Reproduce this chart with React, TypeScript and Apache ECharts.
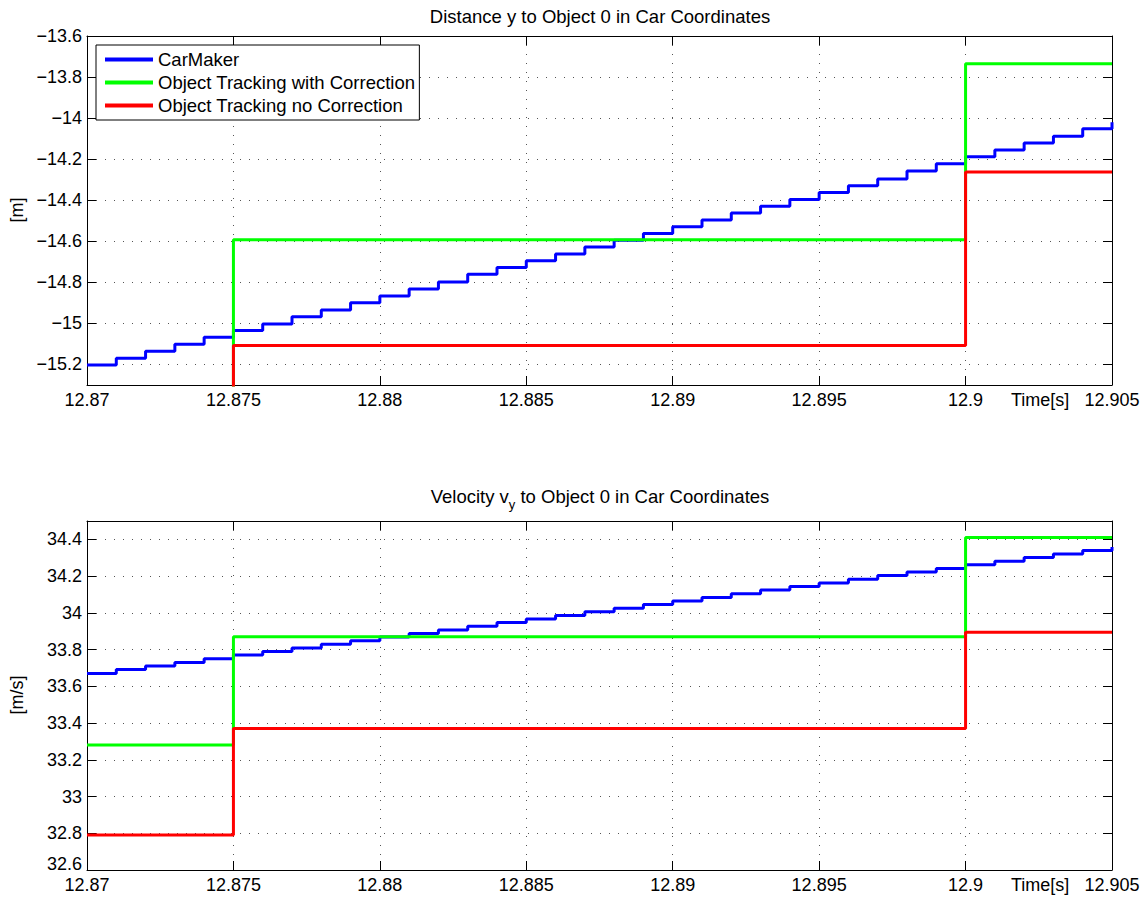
import React, { useEffect, useRef } from 'react';
import * as echarts from 'echarts';

const FONT = "'Liberation Sans', Arial, Helvetica, sans-serif";

const seriesNames = ['CarMaker', 'Object Tracking with Correction', 'Object Tracking no Correction'];
const seriesColors = ['#0000ff', '#00ff00', '#ff0000'];

const distTicks = [-15.2, -15, -14.8, -14.6, -14.4, -14.2, -14, -13.8, -13.6];

const carMakerTime = [
  12.870, 12.871, 12.872, 12.873, 12.874, 12.875, 12.876, 12.877, 12.878, 12.879,
  12.880, 12.881, 12.882, 12.883, 12.884, 12.885, 12.886, 12.887, 12.888, 12.889,
  12.890, 12.891, 12.892, 12.893, 12.894, 12.895, 12.896, 12.897, 12.898, 12.899,
  12.900, 12.901, 12.902, 12.903, 12.904, 12.905,
];
const carMakerDistance = [
  -15.203, -15.170, -15.136, -15.102, -15.068, -15.035, -15.003, -14.967, -14.935, -14.899,
  -14.866, -14.832, -14.798, -14.761, -14.728, -14.695, -14.662, -14.628, -14.595, -14.562,
  -14.529, -14.496, -14.462, -14.429, -14.396, -14.362, -14.329, -14.296, -14.258, -14.222,
  -14.188, -14.155, -14.121, -14.088, -14.052, -14.020,
];
const carMakerVelocity = [
  33.670, 33.691, 33.711, 33.730, 33.750, 33.770, 33.789, 33.809, 33.829, 33.848,
  33.868, 33.888, 33.907, 33.927, 33.947, 33.966, 33.986, 34.006, 34.025, 34.045,
  34.065, 34.084, 34.104, 34.124, 34.143, 34.163, 34.183, 34.203, 34.222, 34.242,
  34.262, 34.281, 34.301, 34.321, 34.340, 34.358,
];

const trackTime = [12.870, 12.875, 12.900, 12.905];
const trackCorrDistance = [-15.6, -14.593, -13.735, -13.735];
const trackNoCorrDistance = [-15.7, -15.108, -14.262, -14.262];
const trackCorrVelocity = [33.28, 33.87, 34.41, 34.41];
const trackNoCorrVelocity = [32.79, 33.37, 33.895, 33.895];

const zip = (xs: number[], ys: number[]) => xs.map((x, i) => [x, ys[i]]);

const fmtX = (v: number) => String(Number(v.toFixed(3)));
const fmtY = (v: number) => String(Number(v.toFixed(1))).replace('-', '\u2212');
const VEL_MIN = 32.6;
const fmtVel = (v: number) => (Math.abs(v - VEL_MIN) < 1e-6 ? '{low|' + fmtY(v) + '}' : fmtY(v));

const TICK_FS = 18;
const labelStyle = { fontFamily: FONT, fontSize: TICK_FS, color: '#000' };
const gridDots = { color: '#555', width: 1, type: [1, 8] };

function mainX(gridIndex: number) {
  return {
    type: 'value', gridIndex, position: 'bottom', min: 12.87, max: 12.905, interval: 0.005,
    axisLine: { show: true, onZero: false, lineStyle: { color: '#000', width: 1 } },
    axisTick: { show: true, inside: true, length: 9, lineStyle: { color: '#000' } },
    axisLabel: { ...labelStyle, margin: 6, formatter: fmtX },
    splitLine: { show: true, lineStyle: gridDots },
  };
}
function topX(gridIndex: number) {
  return {
    type: 'value', gridIndex, position: 'top', min: 12.87, max: 12.905, interval: 0.005,
    axisLine: { show: true, onZero: false, lineStyle: { color: '#000', width: 1 } },
    axisTick: { show: true, inside: true, length: 9, lineStyle: { color: '#000' } },
    axisLabel: { show: false },
    splitLine: { show: false },
  };
}

function makeSeries(name: string, color: string, xi: number, data: number[][]) {
  return {
    type: 'line', name, xAxisIndex: xi, yAxisIndex: xi, step: 'end', data,
    showSymbol: false, symbol: 'none', clip: true,
    color, itemStyle: { color }, lineStyle: { color, width: 3 },
  };
}

const option = {
  animation: false,
  backgroundColor: '#fff',
  textStyle: { fontFamily: FONT },
  grid: [
    { left: 87, top: 36, width: 1025, height: 349 },
    { left: 87, top: 521, width: 1025, height: 349 },
  ],
  xAxis: [mainX(0), topX(0), mainX(1), topX(1)],
  yAxis: [
    {
      type: 'value', gridIndex: 0, position: 'left', min: -15.3, max: -13.6,
      axisLine: { show: true, onZero: false, lineStyle: { color: '#000', width: 1 } },
      axisTick: { show: true, inside: true, length: 9, customValues: distTicks, lineStyle: { color: '#000' } },
      axisLabel: { ...labelStyle, margin: 5, customValues: distTicks, formatter: fmtY },
      splitLine: { show: true, lineStyle: gridDots },
    },
    {
      type: 'value', gridIndex: 0, position: 'right', min: -15.3, max: -13.6,
      axisLine: { show: true, onZero: false, lineStyle: { color: '#000', width: 1 } },
      axisTick: { show: true, inside: true, length: 9, customValues: distTicks, lineStyle: { color: '#000' } },
      axisLabel: { show: false },
      splitLine: { show: false },
    },
    {
      type: 'value', gridIndex: 1, position: 'left', min: VEL_MIN, max: 34.5, interval: 0.2,
      axisLine: { show: true, onZero: false, lineStyle: { color: '#000', width: 1 } },
      axisTick: { show: true, inside: true, length: 9, lineStyle: { color: '#000' } },
      axisLabel: {
        ...labelStyle, margin: 5, formatter: fmtVel, showMaxLabel: false,
        rich: { low: { fontFamily: FONT, fontSize: TICK_FS, color: '#000', padding: [0, 0, 12, 0] } },
      },
      splitLine: { show: true, lineStyle: gridDots },
    },
    {
      type: 'value', gridIndex: 1, position: 'right', min: VEL_MIN, max: 34.5, interval: 0.2,
      axisLine: { show: true, onZero: false, lineStyle: { color: '#000', width: 1 } },
      axisTick: { show: true, inside: true, length: 9, lineStyle: { color: '#000' } },
      axisLabel: { show: false },
      splitLine: { show: false },
    },
  ],
  legend: {
    data: seriesNames,
    orient: 'vertical',
    left: 96,
    top: 45,
    icon: 'rect',
    itemWidth: 48,
    itemHeight: 4,
    itemGap: 4,
    itemTextGap: 6,
    padding: [5, 4, 5, 9],
    borderColor: '#000',
    borderWidth: 1,
    backgroundColor: '#fff',
    selectedMode: false,
    textStyle: { fontFamily: FONT, fontSize: 18.5, color: '#000', lineHeight: 18 },
  },
  graphic: [
    {
      type: 'text', x: 600, y: 16,
      style: {
        text: 'Distance y to Object 0 in Car Coordinates', fontFamily: FONT, fontSize: 18.5,
        fill: '#000', align: 'center', verticalAlign: 'middle',
      },
    },
    {
      type: 'text', x: 600, y: 487,
      style: {
        text: '{a|Velocity v}{s|y}{a| to Object 0 in Car Coordinates}',
        fontFamily: FONT, fontSize: 18.5, fill: '#000', align: 'center', verticalAlign: 'top',
        rich: {
          a: { fontFamily: FONT, fontSize: 18.5, lineHeight: 18, verticalAlign: 'top', fill: '#000' },
          s: { fontFamily: FONT, fontSize: 13, lineHeight: 13, padding: [11, 0, 0, 0], verticalAlign: 'top', fill: '#000' },
        },
      },
    },
    {
      type: 'text', x: 17, y: 210, rotation: Math.PI / 2,
      style: { text: '[m]', fontFamily: FONT, fontSize: TICK_FS, fill: '#000', align: 'center', verticalAlign: 'middle' },
    },
    {
      type: 'text', x: 17, y: 695, rotation: Math.PI / 2,
      style: { text: '[m/s]', fontFamily: FONT, fontSize: TICK_FS, fill: '#000', align: 'center', verticalAlign: 'middle' },
    },
    {
      type: 'text', x: 1011, y: 391,
      style: { text: 'Time[s]', fontFamily: FONT, fontSize: TICK_FS, fill: '#000', align: 'left', verticalAlign: 'top' },
    },
    {
      type: 'text', x: 1011, y: 876,
      style: { text: 'Time[s]', fontFamily: FONT, fontSize: TICK_FS, fill: '#000', align: 'left', verticalAlign: 'top' },
    },
  ],
  series: [
    makeSeries(seriesNames[0], seriesColors[0], 0, zip(carMakerTime, carMakerDistance)),
    makeSeries(seriesNames[1], seriesColors[1], 0, zip(trackTime, trackCorrDistance)),
    makeSeries(seriesNames[2], seriesColors[2], 0, zip(trackTime, trackNoCorrDistance)),
    makeSeries(seriesNames[0], seriesColors[0], 2, zip(carMakerTime, carMakerVelocity)),
    makeSeries(seriesNames[1], seriesColors[1], 2, zip(trackTime, trackCorrVelocity)),
    makeSeries(seriesNames[2], seriesColors[2], 2, zip(trackTime, trackNoCorrVelocity)),
  ],
};

export default function App() {
  const ref = useRef<HTMLDivElement>(null);
  useEffect(() => {
    document.body.style.margin = '0';
    const chart = echarts.init(ref.current as HTMLDivElement, null, { renderer: 'svg' });
    chart.setOption(option as any);
    return () => chart.dispose();
  }, []);
  return <div ref={ref} style={{ width: 1146, height: 899 }} />;
}
